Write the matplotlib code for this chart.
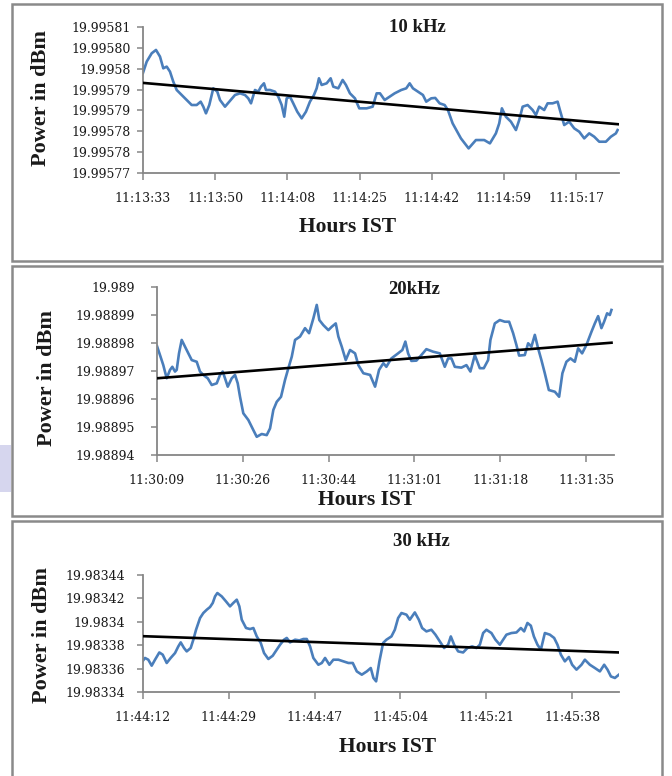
import numpy as np
import matplotlib
matplotlib.use("Agg")
import matplotlib.pyplot as plt
from matplotlib.patches import Rectangle

# ---------------- data ----------------
# 10 kHz run, seconds after 11:13:33
t_10k = [0, 0.89, 2.09, 3.12, 4.08, 4.87, 5.69, 6.48, 7.27, 8.09, 9.29, 10.49, 11.69, 12.89,
         13.85, 14.48, 15.12, 15.92, 16.88, 17.84, 18.49, 19.69, 20.72, 22.09, 23.29, 24.49,
         25.28, 25.93, 26.89, 27.68, 28.33, 29.05, 29.53, 30.49, 31.69, 32.48, 33.30, 33.92,
         34.50, 35.29, 36.08, 37.04, 38.10, 39.13, 40.09, 41.05, 41.70, 42.25, 42.90, 44.10,
         45.06, 45.69, 46.89, 47.94, 48.73, 49.69, 50.89, 51.93, 53.70, 55.15, 56.11, 56.90,
         58.03, 59.23, 60.43, 62.01, 63.21, 64.03, 64.82, 66.02, 67.22, 68.01, 69.21, 70.17,
         71.23, 72.43, 73.22, 74.35, 76.34, 78.19, 79.94, 81.94, 83.30, 84.74, 85.54, 86.18,
         87.14, 88.35, 89.55, 90.34, 91.16, 92.36, 93.56, 94.35, 95.14, 96.34, 97.16, 98.36,
         99.56, 100.11, 101.14, 102.34, 103.55, 104.75, 105.95, 107.15, 108.35, 109.55,
         111.15, 112.35, 113.55, 113.96]
p_10k = [19.9957990, 19.9958017, 19.9958037, 19.9958045, 19.9958029, 19.9958001, 19.9958005,
         19.9957993, 19.9957969, 19.9957949, 19.9957937, 19.9957925, 19.9957913, 19.9957913,
         19.9957921, 19.9957909, 19.9957893, 19.9957913, 19.9957953, 19.9957945, 19.9957925,
         19.9957909, 19.9957921, 19.9957937, 19.9957941, 19.9957937, 19.9957929, 19.9957917,
         19.9957949, 19.9957945, 19.9957957, 19.9957965, 19.9957949, 19.9957949, 19.9957945,
         19.9957933, 19.9957913, 19.9957885, 19.9957929, 19.9957933, 19.9957917, 19.9957897,
         19.9957881, 19.9957897, 19.9957921, 19.9957937, 19.9957953, 19.9957977, 19.9957961,
         19.9957965, 19.9957977, 19.9957957, 19.9957953, 19.9957973, 19.9957961, 19.9957941,
         19.9957929, 19.9957905, 19.9957905, 19.9957909, 19.9957941, 19.9957941, 19.9957925,
         19.9957933, 19.9957941, 19.9957949, 19.9957953, 19.9957965, 19.9957953, 19.9957945,
         19.9957937, 19.9957921, 19.9957929, 19.9957930, 19.9957917, 19.9957913, 19.9957901,
         19.9957869, 19.9957833, 19.9957809, 19.9957829, 19.9957829, 19.9957821, 19.9957845,
         19.9957869, 19.9957905, 19.9957885, 19.9957873, 19.9957853, 19.9957877, 19.9957909,
         19.9957913, 19.9957901, 19.9957889, 19.9957909, 19.9957901, 19.9957917, 19.9957917,
         19.9957921, 19.9957901, 19.9957865, 19.9957873, 19.9957857, 19.9957849, 19.9957833,
         19.9957845, 19.9957837, 19.9957825, 19.9957825, 19.9957837, 19.9957845, 19.9957853]
trend_t_10k = [0, 114]
trend_p_10k = [19.9957966, 19.9957867]
xtick_labels_10k = ["11:13:33", "11:13:50", "11:14:08", "11:14:25", "11:14:42", "11:14:59", "11:15:17"]
ytick_values_10k = [19.995775, 19.995780, 19.995785, 19.995790, 19.995795, 19.995800, 19.995805, 19.995810]
ytick_labels_10k = ["19.99577", "19.99578", "19.99578", "19.99579", "19.99579", "19.9958", "19.99580", "19.99581"]

# 20 kHz run, seconds after 11:30:09
t_20k = [0, 0.60, 1.26, 1.94, 2.61, 3.07, 3.61, 3.95, 4.41, 4.95, 5.61, 6.28, 6.96, 7.96, 8.62,
         9.28, 10.17, 10.97, 11.97, 12.63, 13.17, 13.63, 14.18, 14.98, 15.64, 16.18, 16.64,
         17.30, 18.31, 19.31, 19.99, 20.99, 21.99, 22.66, 23.32, 24.00, 24.86, 25.66, 26.33,
         27.01, 27.67, 28.67, 29.67, 30.48, 31.34, 32.02, 32.54, 33.34, 34.35, 35.03, 35.83,
         36.35, 37.03, 37.83, 38.69, 39.70, 40.36, 41.36, 42.71, 43.71, 44.51, 45.37, 45.97,
         46.98, 48.32, 49.18, 49.78, 50.33, 50.99, 51.99, 52.99, 53.99, 55.34, 56.68, 57.68,
         58.35, 59.01, 59.69, 61.01, 62.02, 62.82, 63.70, 64.70, 65.50, 66.37, 66.83, 67.71,
         68.71, 69.71, 70.58, 71.38, 72.04, 72.58, 73.72, 74.39, 75.05, 75.73, 76.39, 77.05,
         77.73, 78.54, 79.74, 80.60, 81.26, 82.06, 82.87, 83.75, 84.41, 85.21, 86.07, 87.08,
         87.76, 88.42, 89.08, 89.62, 90.22, 90.76, 91.09]
p_20k = [19.9889789, 19.9889757, 19.9889721, 19.9889674, 19.9889704, 19.9889715, 19.9889698,
         19.9889704, 19.9889763, 19.9889811, 19.9889787, 19.9889763, 19.9889739, 19.9889733,
         19.9889698, 19.9889686, 19.9889674, 19.9889650, 19.9889656, 19.9889686, 19.9889698,
         19.9889674, 19.9889644, 19.9889674, 19.9889686, 19.9889656, 19.9889608, 19.9889549,
         19.9889525, 19.9889489, 19.9889465, 19.9889475, 19.9889471, 19.9889495, 19.9889561,
         19.9889590, 19.9889608, 19.9889668, 19.9889710, 19.9889751, 19.9889811, 19.9889823,
         19.9889853, 19.9889835, 19.9889888, 19.9889936, 19.9889882, 19.9889864, 19.9889846,
         19.9889858, 19.9889870, 19.9889823, 19.9889787, 19.9889739, 19.9889775, 19.9889763,
         19.9889721, 19.9889692, 19.9889686, 19.9889644, 19.9889704, 19.9889728, 19.9889715,
         19.9889745, 19.9889763, 19.9889775, 19.9889805, 19.9889763, 19.9889736, 19.9889737,
         19.9889757, 19.9889778, 19.9889769, 19.9889763, 19.9889715, 19.9889745, 19.9889745,
         19.9889715, 19.9889712, 19.9889721, 19.9889698, 19.9889757, 19.9889710, 19.9889710,
         19.9889739, 19.9889811, 19.9889870, 19.9889882, 19.9889876, 19.9889876, 19.9889835,
         19.9889793, 19.9889755, 19.9889757, 19.9889799, 19.9889787, 19.9889829, 19.9889781,
         19.9889739, 19.9889692, 19.9889632, 19.9889626, 19.9889608, 19.9889692, 19.9889733,
         19.9889745, 19.9889733, 19.9889781, 19.9889763, 19.9889793, 19.9889840, 19.9889870,
         19.9889896, 19.9889853, 19.9889876, 19.9889906, 19.9889900, 19.9889918]
trend_t_20k = [0, 91.1]
trend_p_20k = [19.9889674, 19.9889801]
xtick_labels_20k = ["11:30:09", "11:30:26", "11:30:44", "11:31:01", "11:31:18", "11:31:35"]
ytick_values_20k = [19.98894, 19.98895, 19.98896, 19.98897, 19.98898, 19.98899, 19.98900]
ytick_labels_20k = ["19.98894", "19.98895", "19.98896", "19.98897", "19.98898", "19.98899", "19.989"]

# 30 kHz run, seconds after 11:44:12
t_30k = [0, 0.40, 1.06, 1.74, 2.41, 3.27, 3.95, 4.75, 5.55, 6.42, 7.08, 7.56, 8.22, 8.76, 9.56,
         10.09, 10.63, 11.43, 12.09, 12.77, 13.43, 13.98, 14.44, 14.90, 15.78, 16.64, 17.44,
         18.10, 18.79, 19.31, 19.79, 20.65, 21.45, 22.12, 22.80, 23.60, 24.26, 25.12, 26.00,
         26.81, 27.47, 28.27, 28.81, 29.47, 30.48, 31.34, 32.14, 32.82, 33.48, 34.14, 35.15,
         35.83, 36.49, 37.35, 38.15, 39.16, 40.16, 41.16, 42.04, 42.85, 43.85, 44.85, 45.65,
         46.18, 46.72, 47.38, 48.12, 48.79, 49.79, 50.47, 51.13, 51.80, 52.80, 53.47, 54.48,
         55.28, 55.94, 56.80, 57.80, 58.61, 59.49, 60.35, 61.15, 61.69, 62.36, 63.16, 64.16,
         65.02, 65.97, 66.83, 67.51, 68.17, 68.83, 69.83, 70.64, 71.52, 72.18, 72.84, 73.84,
         74.85, 75.73, 76.39, 77.05, 77.73, 78.34, 79.06, 79.74, 80.54, 81.54, 82.40, 83.07,
         83.75, 84.55, 85.35, 86.01, 86.88, 87.88, 88.56, 89.56, 90.57, 91.57, 92.43, 93.10,
         93.78, 94.58, 95.38]
p_30k = [19.9833668, 19.9833691, 19.9833676, 19.9833625, 19.9833676, 19.9833738, 19.9833719,
         19.9833648, 19.9833691, 19.9833733, 19.9833790, 19.9833824, 19.9833776, 19.9833747,
         19.9833776, 19.9833847, 19.9833932, 19.9834032, 19.9834075, 19.9834103, 19.9834126,
         19.9834161, 19.9834217, 19.9834246, 19.9834217, 19.9834174, 19.9834132, 19.9834161,
         19.9834189, 19.9834132, 19.9834018, 19.9833947, 19.9833938, 19.9833947, 19.9833875,
         19.9833819, 19.9833733, 19.9833682, 19.9833710, 19.9833762, 19.9833804, 19.9833847,
         19.9833862, 19.9833824, 19.9833847, 19.9833841, 19.9833853, 19.9833853, 19.9833790,
         19.9833691, 19.9833633, 19.9833648, 19.9833691, 19.9833633, 19.9833676, 19.9833676,
         19.9833662, 19.9833648, 19.9833648, 19.9833576, 19.9833548, 19.9833576, 19.9833605,
         19.9833520, 19.9833491, 19.9833662, 19.9833819, 19.9833847, 19.9833875, 19.9833932,
         19.9834032, 19.9834075, 19.9834061, 19.9834018, 19.9834080, 19.9834018, 19.9833947,
         19.9833918, 19.9833932, 19.9833890, 19.9833832, 19.9833776, 19.9833804, 19.9833875,
         19.9833804, 19.9833747, 19.9833738, 19.9833776, 19.9833790, 19.9833776, 19.9833804,
         19.9833904, 19.9833932, 19.9833904, 19.9833847, 19.9833804, 19.9833847, 19.9833890,
         19.9833904, 19.9833909, 19.9833947, 19.9833918, 19.9833990, 19.9833967, 19.9833875,
         19.9833804, 19.9833762, 19.9833904, 19.9833890, 19.9833862, 19.9833804, 19.9833719,
         19.9833662, 19.9833699, 19.9833633, 19.9833591, 19.9833633, 19.9833676, 19.9833633,
         19.9833605, 19.9833576, 19.9833633, 19.9833591, 19.9833533, 19.9833520, 19.9833548]
trend_t_30k = [0, 95.4]
trend_p_30k = [19.9833877, 19.9833738]
xtick_labels_30k = ["11:44:12", "11:44:29", "11:44:47", "11:45:04", "11:45:21", "11:45:38"]
ytick_values_30k = [19.98334, 19.98336, 19.98338, 19.98340, 19.98342, 19.98344]
ytick_labels_30k = ["19.98334", "19.98336", "19.98338", "19.9834", "19.98342", "19.98344"]

# ---------------- layout ----------------
W, H = 672, 776
fig = plt.figure(figsize=(W / 100, H / 100), dpi=100)
fig.patch.set_facecolor("white")

LINE_BLUE = "#4a7ebb"
AXIS_GREY = "#868686"
FRAME_GREY = "#8a8a8a"
TXT = "#1a1a1a"
SERIF = ["Liberation Serif", "DejaVu Serif"]


def fx(px):
    return px / W


def fy(py):
    return 1 - py / H


def frame(x0, y0, x1, y1):
    fig.add_artist(Rectangle((fx(x0), fy(y1)), fx(x1) - fx(x0), fy(y0) - fy(y1),
                             transform=fig.transFigure, fill=False,
                             edgecolor=FRAME_GREY, linewidth=1.8, zorder=0))


# panel frames and the small tinted block on the left edge
frame(12, 4, 662, 261)
frame(12, 266, 662, 516)
frame(12, 521, 662, 800)
fig.add_artist(Rectangle((0, fy(492)), fx(11), fy(445) - fy(492),
                         transform=fig.transFigure, facecolor="#d6d6ee",
                         edgecolor="none", zorder=0))

panels = [
    dict(box=(143, 27, 619, 173), t=t_10k, p=p_10k, tt=trend_t_10k, tp=trend_p_10k,
         xend=114.3, tick_span=104.0, xlabels=xtick_labels_10k,
         yvals=ytick_values_10k, ylabels=ytick_labels_10k, ypad=5,
         title="10 kHz", title_xy=(417, 28), ylab_xy=(41, 98), xlab_xy=(348, 227)),
    dict(box=(157, 287, 614, 455), t=t_20k, p=p_20k, tt=trend_t_20k, tp=trend_p_20k,
         xend=91.6, tick_span=86.0, xlabels=xtick_labels_20k,
         yvals=ytick_values_20k, ylabels=ytick_labels_20k, ypad=12,
         title="20kHz", title_xy=(414, 290), ylab_xy=(47, 378), xlab_xy=(367, 500)),
    dict(box=(143, 575, 619, 692), t=t_30k, p=p_30k, tt=trend_t_30k, tp=trend_p_30k,
         xend=95.4, tick_span=86.0, xlabels=xtick_labels_30k,
         yvals=ytick_values_30k, ylabels=ytick_labels_30k, ypad=9,
         title="30 kHz", title_xy=(421, 542), ylab_xy=(42, 635), xlab_xy=(388, 747)),
]

for pn in panels:
    x0, y0, x1, y1 = pn["box"]
    ax = fig.add_axes([fx(x0), fy(y1), fx(x1) - fx(x0), fy(y0) - fy(y1)])
    ax.set_facecolor("none")
    ax.plot(pn["t"], pn["p"], color=LINE_BLUE, lw=1.9, solid_joinstyle="round", zorder=2)
    ax.plot(pn["tt"], pn["tp"], color="black", lw=1.9, zorder=3)

    ax.set_xlim(0, pn["xend"])
    ax.set_ylim(pn["yvals"][0], pn["yvals"][-1])
    ax.set_xticks(np.linspace(0, pn["tick_span"], len(pn["xlabels"])))
    ax.set_xticklabels(pn["xlabels"])
    ax.set_yticks(pn["yvals"])
    ax.set_yticklabels(pn["ylabels"])

    for side in ("top", "right"):
        ax.spines[side].set_visible(False)
    for side in ("left", "bottom"):
        ax.spines[side].set_color(AXIS_GREY)
        ax.spines[side].set_linewidth(1.3)
    ax.tick_params(axis="both", direction="out", color=AXIS_GREY, width=1.1,
                   labelcolor=TXT, labelsize=9)
    ax.tick_params(axis="x", length=5, pad=9)
    ax.tick_params(axis="y", length=4, pad=pn["ypad"])
    for lab in ax.get_xticklabels() + ax.get_yticklabels():
        lab.set_family(["DejaVu Serif"])

    tx, ty = pn["title_xy"]
    fig.text(fx(tx), fy(ty), pn["title"], ha="center", va="center",
             family=SERIF, fontweight="bold", fontsize=13.5, color=TXT)
    lx, ly = pn["ylab_xy"]
    fig.text(fx(lx), fy(ly), "Power in dBm", ha="center", va="center", rotation=90,
             family=SERIF, fontweight="bold", fontsize=16, color=TXT)
    hx, hy = pn["xlab_xy"]
    fig.text(fx(hx), fy(hy), "Hours IST", ha="center", va="center",
             family=SERIF, fontweight="bold", fontsize=15.5, color=TXT)

fig.savefig("out.png", dpi=100)
